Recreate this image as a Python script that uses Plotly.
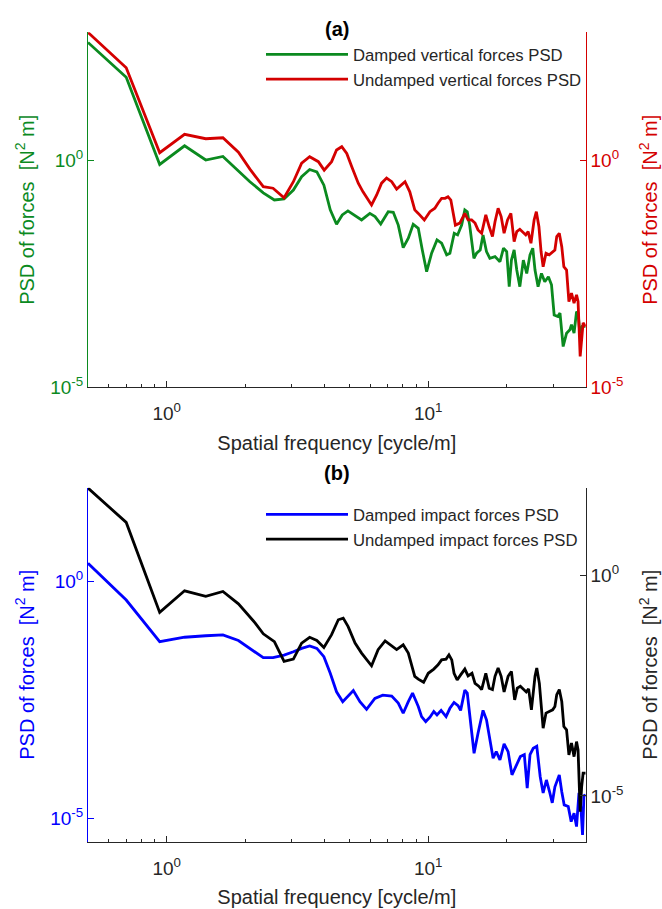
import math
import plotly.graph_objects as go

# ---------------- data ----------------
# Panel (a): vertical forces
freq_damped_vert = [0.50, 0.70, 0.94, 1.17, 1.41, 1.64, 2.08, 2.34, 2.58, 2.81,
                    3.05, 3.28, 3.52, 3.75, 3.99, 4.22, 4.46, 4.69, 4.93, 5.25,
                    5.56, 5.98, 6.26, 6.58, 7.03, 7.35, 7.68, 8.02, 8.39, 8.76,
                    9.16, 9.49, 9.86, 10.3, 10.8, 11.25, 11.76, 12.1, 12.57, 12.95,
                    13.42, 13.8, 14.1, 14.4, 14.95, 15.3, 15.8, 16.2, 16.7, 17.2,
                    18.0, 18.8, 19.4, 19.95, 20.4, 20.8, 21.3, 21.8, 22.4, 23.1,
                    23.8, 24.5, 25.1, 25.6, 26.3, 27.1, 27.9, 28.8, 29.6, 30.3,
                    31.3, 31.9, 32.8, 33.8, 34.8, 35.3, 36.1, 36.9, 37.4, 38.0,
                    38.8, 40.0]
psd_damped_vert = [386, 66, 0.80, 2.06, 1.0, 1.2, 0.333, 0.19, 0.132, 0.139,
                   0.219, 0.43, 0.62, 0.55, 0.28, 0.080, 0.0386, 0.062, 0.076, 0.060,
                   0.048, 0.067, 0.057, 0.039, 0.073, 0.071, 0.037, 0.0118, 0.019, 0.0386,
                   0.0315, 0.0105, 0.0035, 0.0089, 0.0175, 0.0148, 0.0082, 0.0089, 0.0245, 0.0225,
                   0.037, 0.080, 0.073, 0.037, 0.0069, 0.0089, 0.0105, 0.0225, 0.0097, 0.0069,
                   0.0075, 0.0058, 0.0115, 0.0097, 0.00164, 0.0063, 0.0105, 0.0038, 0.00164, 0.0063,
                   0.0032, 0.0082, 0.0115, 0.0038, 0.00164, 0.0032, 0.0021, 0.0027, 0.0018, 0.00039,
                   0.00036, 0.00043, 7.9e-5, 1.55e-4, 1.84e-4, 2.4e-4, 1.55e-4, 4.6e-4, 4.3e-4, 1.55e-4,
                   2.2e-4, 2.2e-4]

freq_undamped_vert = [0.50, 0.70, 0.94, 1.17, 1.41, 1.64, 1.88, 2.08, 2.34, 2.55,
                      2.81, 3.05, 3.28, 3.52, 3.80, 4.00, 4.27, 4.46, 4.67, 4.88,
                      5.10, 5.40, 5.63, 6.07, 6.35, 6.63, 6.93, 7.25, 7.57, 7.91,
                      8.15, 8.50, 8.88, 9.16, 9.66, 10.15, 10.6, 10.9, 11.25, 11.6,
                      11.9, 12.2, 12.5, 12.7, 13.2, 13.8, 14.2, 14.65, 15.1, 15.5,
                      16.0, 16.6, 17.1, 17.6, 18.0, 18.5, 19.0, 19.5, 20.1, 20.7,
                      21.3, 21.8, 22.4, 23.1, 23.6, 24.1, 24.7, 25.4, 25.9, 26.5,
                      27.0, 27.5, 28.2, 29.0, 29.9, 30.5, 31.0, 31.7, 32.4, 33.0,
                      33.8, 34.5, 35.3, 36.1, 36.9, 37.4, 38.1, 38.6, 39.1, 40.0]
psd_undamped_vert = [641, 107, 1.45, 3.67, 2.94, 3.09, 1.48, 0.63, 0.26, 0.24,
                     0.148, 0.333, 0.85, 1.18, 0.92, 0.60, 0.92, 1.66, 1.96, 1.40,
                     0.71, 0.31, 0.20, 0.103, 0.17, 0.31, 0.40, 0.333, 0.23, 0.28,
                     0.333, 0.20, 0.080, 0.067, 0.048, 0.073, 0.087, 0.112, 0.144, 0.144,
                     0.156, 0.132, 0.067, 0.037, 0.041, 0.067, 0.048, 0.048, 0.041, 0.029,
                     0.0245, 0.062, 0.034, 0.0207, 0.044, 0.087, 0.057, 0.0245, 0.048, 0.067,
                     0.016, 0.0266, 0.030, 0.0245, 0.0225, 0.0266, 0.0148, 0.048, 0.073, 0.034,
                     0.0097, 0.0045, 0.0089, 0.0082, 0.0097, 0.0105, 0.0207, 0.0245, 0.0124, 0.0045,
                     0.0038, 0.00077, 0.00118, 0.00071, 0.00108, 0.00077, 4.8e-5, 1.31e-4, 2.6e-4, 2.2e-4]

# Panel (b): impact forces
freq_damped_imp = [0.50, 0.70, 0.94, 1.17, 1.41, 1.64, 1.88, 2.18, 2.34, 2.55,
                   2.81, 3.05, 3.28, 3.52, 3.75, 3.99, 4.22, 4.46, 4.71, 5.17,
                   5.48, 5.81, 6.25, 6.70, 7.25, 7.68, 8.02, 8.39, 8.71, 9.00,
                   9.16, 9.43, 9.78, 10.15, 10.5, 10.8, 11.2, 11.7, 12.1, 12.55,
                   13.0, 13.3, 13.8, 14.1, 14.65, 14.97, 15.5, 16.2, 16.7, 17.2,
                   17.7, 18.2, 18.8, 19.5, 20.2, 20.9, 21.7, 22.5, 23.3, 23.9,
                   24.5, 25.2, 26.0, 26.8, 27.5, 28.3, 29.1, 29.8, 30.5, 31.7,
                   32.4, 33.1, 34.3, 35.2, 36.1, 36.9, 37.7, 38.4, 38.9, 39.4,
                   40.0]
psd_damped_imp = [2.45, 0.41, 0.054, 0.067, 0.072, 0.075, 0.057, 0.033, 0.0247, 0.0247,
                  0.028, 0.033, 0.039, 0.044, 0.039, 0.026, 0.0116, 0.0047, 0.0029, 0.0050,
                  0.0029, 0.0020, 0.0034, 0.0040, 0.0038, 0.0027, 0.00165, 0.0029, 0.0044, 0.0029,
                  0.0023, 0.0014, 0.0011, 0.00136, 0.0018, 0.00152, 0.0019, 0.0014, 0.0021, 0.0028,
                  0.0024, 0.0019, 0.0051, 0.0044, 0.00073, 0.000235, 0.00062, 0.0019, 0.0012, 0.00045,
                  0.000185, 0.000255, 0.00017, 0.00037, 0.000255, 8.2e-5, 1.35e-4, 2.0e-4, 2.2e-4, 4.3e-5,
                  2.2e-4, 3.0e-4, 3.3e-4, 7.5e-5, 3.4e-5, 6.4e-5, 3.6e-5, 2.1e-5, 4.6e-5, 8.2e-5,
                  3.6e-5, 1.9e-5, 1.75e-5, 8.4e-6, 1.27e-5, 6.6e-6, 3.4e-5, 1.5e-5, 4.4e-6, 3.1e-5,
                  2.85e-5]

freq_undamped_imp = [0.50, 0.70, 0.94, 1.17, 1.41, 1.64, 1.88, 2.18, 2.34, 2.58,
                     2.81, 3.05, 3.28, 3.52, 3.75, 3.99, 4.27, 4.53, 4.73, 4.94,
                     5.25, 5.56, 6.07, 6.43, 6.84, 7.14, 7.57, 8.02, 8.39, 8.88,
                     9.16, 9.6, 10.0, 10.5, 10.9, 11.25, 11.7, 12.0, 12.3, 12.55,
                     12.9, 13.3, 13.8, 14.2, 14.7, 15.1, 15.6, 16.0, 16.6, 17.1,
                     17.6, 18.0, 18.5, 19.0, 19.5, 20.2, 20.8, 21.4, 21.9, 22.5,
                     23.2, 23.7, 24.2, 24.8, 25.6, 26.0, 26.6, 27.0, 27.5, 28.2,
                     29.0, 29.9, 30.5, 31.0, 31.7, 32.4, 33.0, 33.8, 34.5, 35.3,
                     36.1, 36.9, 37.4, 38.1, 38.6, 39.1, 40.0]
psd_undamped_imp = [98, 16.3, 0.147, 0.456, 0.34, 0.44, 0.23, 0.084, 0.048, 0.032,
                    0.0113, 0.0128, 0.0295, 0.040, 0.034, 0.0235, 0.046, 0.10, 0.109, 0.070,
                    0.0295, 0.0175, 0.009, 0.021, 0.033, 0.027, 0.021, 0.027, 0.0175, 0.0052,
                    0.0045, 0.0038, 0.0061, 0.0076, 0.0095, 0.0123, 0.0128, 0.016, 0.0123, 0.0061,
                    0.0043, 0.0056, 0.0076, 0.0053, 0.0061, 0.0036, 0.0031, 0.0026, 0.0061, 0.0028,
                    0.0026, 0.0052, 0.008, 0.0052, 0.0023, 0.0052, 0.0067, 0.00152, 0.0028, 0.0031,
                    0.0026, 0.0023, 0.0027, 0.0009, 0.0052, 0.008, 0.0036, 0.00107, 0.000345, 0.00076,
                    0.00082, 0.0009, 0.00107, 0.002, 0.0026, 0.00139, 0.000376, 0.000316, 8.5e-5, 1.58e-4,
                    7.8e-5, 1.71e-4, 1.11e-4, 4.4e-6, 1.6e-5, 3.3e-5, 3.3e-5]

x_tick_vals = [1, 10]
x_tick_text = ["10<sup>0</sup>", "10<sup>1</sup>"]
x_minor_vals = [0.6, 0.7, 0.8, 0.9, 2, 3, 4, 5, 6, 7, 8, 9, 20, 30, 40]
y_tick_vals = [1e-5, 1]
y_tick_text = ["10<sup>-5</sup>", "10<sup>0</sup>"]

for a, b in [(freq_damped_vert, psd_damped_vert), (freq_undamped_vert, psd_undamped_vert),
             (freq_damped_imp, psd_damped_imp), (freq_undamped_imp, psd_undamped_imp)]:
    assert len(a) == len(b), (len(a), len(b))

# ---------------- styling ----------------
FONT = "Liberation Sans, Arial, Helvetica, sans-serif"
GREEN = "#0b8a1f"
RED = "#d40000"
BLUE = "#0000ff"
BLACK = "#000000"
DARK = "#262626"
W, H = 662, 909
TICK_SIZE = 19
TITLE_SIZE = 20
LEG_SIZE = 16.7
LW = 2.8

def px_x(p):
    return p / W

def px_y(p):
    return 1 - p / H

X_DOMAIN = [px_x(88), px_x(585.7)]
TOP_DOMAIN = [px_y(387.3), px_y(32.3)]
BOT_DOMAIN = [px_y(841.7), px_y(487.7)]
X_RANGE = [math.log10(0.5), math.log10(40)]

fig = go.Figure()
fig.add_trace(go.Scatter(x=freq_damped_vert, y=psd_damped_vert, mode="lines",
                         name="Damped vertical forces PSD", xaxis="x", yaxis="y",
                         line=dict(color=GREEN, width=LW), legend="legend"))
fig.add_trace(go.Scatter(x=freq_undamped_vert, y=psd_undamped_vert, mode="lines",
                         name="Undamped vertical forces PSD", xaxis="x", yaxis="y2",
                         line=dict(color=RED, width=LW), legend="legend"))
fig.add_trace(go.Scatter(x=freq_damped_imp, y=psd_damped_imp, mode="lines",
                         name="Damped impact forces PSD", xaxis="x2", yaxis="y3",
                         line=dict(color=BLUE, width=LW), legend="legend2"))
fig.add_trace(go.Scatter(x=freq_undamped_imp, y=psd_undamped_imp, mode="lines",
                         name="Undamped impact forces PSD", xaxis="x2", yaxis="y4",
                         line=dict(color=BLACK, width=LW), legend="legend2"))


def xaxis(anchor):
    return dict(domain=X_DOMAIN, anchor=anchor, type="log", range=X_RANGE,
                tickmode="array", tickvals=x_tick_vals, ticktext=x_tick_text,
                ticks="inside", ticklen=6, tickwidth=1, tickcolor=DARK,
                ticklabelstandoff=9,
                minor=dict(tickmode="array", tickvals=x_minor_vals, ticks="inside",
                           ticklen=3, tickwidth=1, tickcolor=DARK, showgrid=False),
                showline=True, linecolor=DARK, linewidth=1, mirror=False,
                showgrid=False, zeroline=False,
                tickfont=dict(size=TICK_SIZE, color=DARK, family=FONT),
                title=dict(text="Spatial frequency [cycle/m]",
                           font=dict(size=TITLE_SIZE, color=DARK, family=FONT), standoff=12))


def yaxis(domain, rng, color, side, anchor, overlaying=None):
    d = dict(domain=domain, anchor=anchor, type="log", range=rng, side=side,
             tickmode="array", tickvals=y_tick_vals, ticktext=y_tick_text,
             ticks="inside", ticklen=6, tickwidth=1, tickcolor=color,
             showline=True, linecolor=color, linewidth=1,
             showgrid=False, zeroline=False,
             tickfont=dict(size=TICK_SIZE, color=color, family=FONT),
             title=dict(text="PSD of forces  [N<sup>2</sup> m]",
                        font=dict(size=TITLE_SIZE, color=color, family=FONT),
                        standoff=10 if side == "left" else 20))
    if overlaying:
        d["overlaying"] = overlaying
    return d


fig.update_layout(
    width=W, height=H,
    margin=dict(l=0, r=0, t=0, b=0, autoexpand=False),
    paper_bgcolor="white", plot_bgcolor="white",
    font=dict(family=FONT, color=DARK),
    xaxis=xaxis("y"),
    xaxis2=xaxis("y3"),
    yaxis=yaxis(TOP_DOMAIN, [-5, 2.81], GREEN, "left", "x"),
    yaxis2=yaxis(TOP_DOMAIN, [-5, 2.81], RED, "right", "x", overlaying="y"),
    yaxis3=yaxis(BOT_DOMAIN, [-5.5, 1.99], BLUE, "left", "x2"),
    yaxis4=yaxis(BOT_DOMAIN, [-6.04, 2.0], DARK, "right", "x2", overlaying="y3"),
    legend=dict(x=px_x(261), y=px_y(37), xanchor="left", yanchor="top",
                bgcolor="rgba(0,0,0,0)", borderwidth=0, itemwidth=82,
                font=dict(size=LEG_SIZE, color=DARK, family=FONT), tracegroupgap=0),
    legend2=dict(x=px_x(261), y=px_y(497), xanchor="left", yanchor="top",
                 bgcolor="rgba(0,0,0,0)", borderwidth=0, itemwidth=82,
                 font=dict(size=LEG_SIZE, color=DARK, family=FONT), tracegroupgap=0),
    showlegend=True,
    annotations=[
        dict(text="<b>(a)</b>", x=(X_DOMAIN[0] + X_DOMAIN[1]) / 2, y=px_y(16),
             xref="paper", yref="paper", showarrow=False,
             font=dict(size=20, color=BLACK, family=FONT)),
        dict(text="<b>(b)</b>", x=(X_DOMAIN[0] + X_DOMAIN[1]) / 2, y=px_y(473),
             xref="paper", yref="paper", showarrow=False,
             font=dict(size=20, color=BLACK, family=FONT)),
    ],
)

fig.write_html(
    "out.html",
    post_script="document.documentElement.style.margin='0';"
                "document.body.style.margin='0';"
                "document.body.style.overflow='hidden';",
)
